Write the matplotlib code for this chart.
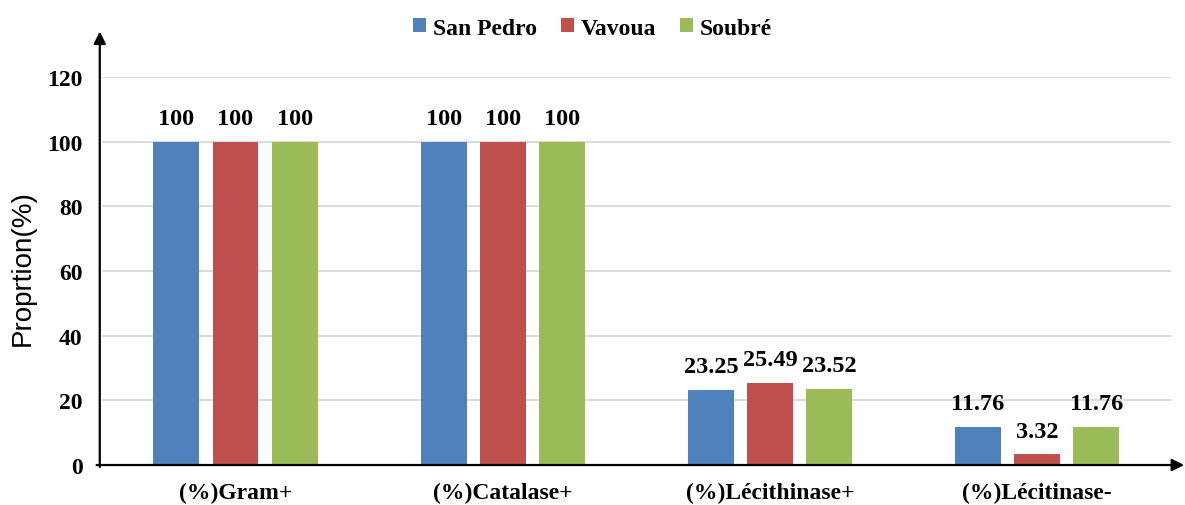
import matplotlib.pyplot as plt
import numpy as np

categories = ["(%)Gram+", "(%)Catalase+", "(%)Lécithinase+", "(%)Lécitinase-"]
series = ["San Pedro", "Vavoua", "Soubré"]
san_pedro = [100, 100, 23.25, 11.76]
vavoua = [100, 100, 25.49, 3.32]
soubre = [100, 100, 23.52, 11.76]
labels_sp = ["100", "100", "23.25", "11.76"]
labels_va = ["100", "100", "25.49", "3.32"]
labels_so = ["100", "100", "23.52", "11.76"]
yticks = [0, 20, 40, 60, 80, 100, 120]

colors = ["#4F81BD", "#C0504D", "#9BBB59"]
serif = "Liberation Serif"

fig = plt.figure(figsize=(11.85, 5.06), dpi=100)
ax = fig.add_axes([0.086, 0.079, 0.902, 0.767])

x = np.arange(len(categories))
w = 0.172
off = 0.221
data = [san_pedro, vavoua, soubre]
labs = [labels_sp, labels_va, labels_so]
for i, (vals, lab) in enumerate(zip(data, labs)):
    pos = x + (i - 1) * off
    ax.bar(pos, vals, width=w, color=colors[i], label=series[i], zorder=3)
    for p, v, t in zip(pos, vals, lab):
        ax.annotate(t, (p, v), xytext=(0, 9), textcoords="offset points",
                    ha="center", va="bottom", fontsize=17.5,
                    fontweight="bold", family=serif)

ax.set_xlim(-0.5, 3.5)
ax.set_ylim(0, 120)
ax.set_yticks(yticks)
ax.set_yticklabels([str(t) for t in yticks], fontsize=17,
                   fontweight="bold", family=serif)
ax.set_xticks(x)
ax.set_xticklabels(categories, fontsize=17, fontweight="bold", family=serif)
ax.tick_params(axis="both", length=0, pad=14)
ax.tick_params(axis="x", pad=12)
ax.grid(axis="y", color="#D9D9D9", linewidth=1.3, zorder=0)
for s in ax.spines.values():
    s.set_visible(False)

# axis lines with arrows
ax.annotate("", xy=(1.0125, 0), xytext=(-0.005, 0), xycoords="axes fraction",
            arrowprops=dict(arrowstyle="-|>", color="black", lw=1.6,
                            mutation_scale=18, shrinkA=0, shrinkB=0))
ax.annotate("", xy=(-0.002, 1.117), xytext=(-0.002, -0.005), xycoords="axes fraction",
            arrowprops=dict(arrowstyle="-|>", color="black", lw=1.6,
                            mutation_scale=18, shrinkA=0, shrinkB=0))

ax.set_ylabel("Proprtion(%)", fontsize=20, family="Liberation Sans")
ax.yaxis.set_label_coords(-0.062, 0.51)

leg = fig.legend(loc="upper center", bbox_to_anchor=(0.5, 1.005), ncol=3,
                 frameon=False, handlelength=0.55, handleheight=0.55,
                 handletextpad=0.3, columnspacing=1.0,
                 prop={"family": serif, "weight": "bold", "size": 17})

fig.savefig("out.png", dpi=100)
